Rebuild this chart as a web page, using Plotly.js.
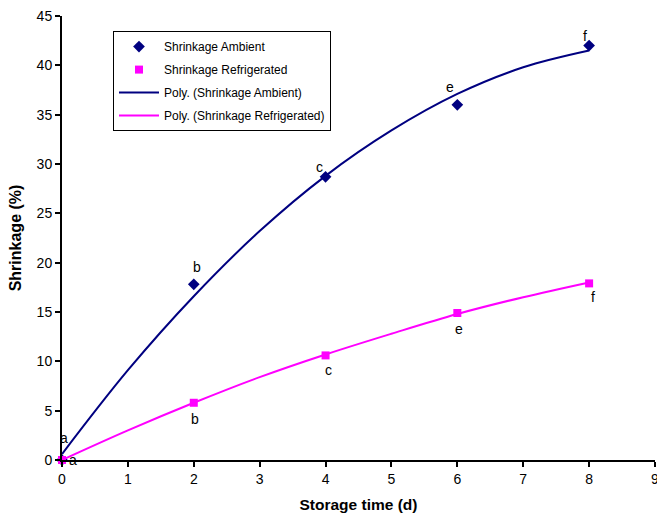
<!DOCTYPE html>
<html><head><meta charset="utf-8">
<script src="https://cdn.plot.ly/plotly-3.0.1.min.js"></script>
<style>html,body{margin:0;padding:0;background:#fff}#c{width:657px;height:516px}</style>
</head><body><div id="c"></div>
<script>
const days = [0, 2, 4, 6, 8];
const ambient = [0, 17.8, 28.7, 36.0, 42.0];
const refrigerated = [0, 5.8, 10.6, 14.9, 17.9];
const ambientLetters = ['a', 'b', 'c', 'e', 'f'];
const refrigLetters = ['a', 'b', 'c', 'e', 'f'];
const trendDays = [0, 1, 2, 3, 4, 5, 6, 7, 8];
const ambientTrend = [0.6, 9.1, 16.6, 23.2, 28.8, 33.4, 37.1, 39.8, 41.5];
const refrigTrend = [0.0, 3.0, 5.8, 8.4, 10.7, 12.8, 14.8, 16.5, 18.0];

// label offsets in pixels (style only)
const ambShiftX = [2, 3, -6, -7, -4];
const ambShiftY = [22, 17, 10, 18, 10];
const refShiftX = [11, 1, 3, 2, 4];
const refShiftY = [0, -16, -15, -16, -14];

const font = 'Liberation Sans, Arial, sans-serif';
const traces = [
  {x: days, y: ambient, mode: 'markers', name: 'Shrinkage Ambient', legendgroup: 'g1',
   marker: {symbol: 'diamond', color: '#000080', size: 9}, cliponaxis: false},
  {x: days, y: refrigerated, mode: 'markers', name: 'Shrinkage Refrigerated', legendgroup: 'g2',
   marker: {symbol: 'square', color: '#FF00FF', size: 8}, cliponaxis: false},
  {x: trendDays, y: ambientTrend, mode: 'lines', name: 'Poly. (Shrinkage Ambient)', legendgroup: 'g3',
   line: {color: '#000080', width: 2, shape: 'spline'}, cliponaxis: false},
  {x: trendDays, y: refrigTrend, mode: 'lines', name: 'Poly. (Shrinkage Refrigerated)', legendgroup: 'g4',
   line: {color: '#FF00FF', width: 2, shape: 'spline'}, cliponaxis: false}
];

const annotations = [];
days.forEach((d, i) => {
  annotations.push({x: d, y: ambient[i], xref: 'x', yref: 'y', text: ambientLetters[i],
    showarrow: false, xshift: ambShiftX[i], yshift: ambShiftY[i],
    font: {family: font, size: 14, color: '#000'}});
  annotations.push({x: d, y: refrigerated[i], xref: 'x', yref: 'y', text: refrigLetters[i],
    showarrow: false, xshift: refShiftX[i], yshift: refShiftY[i],
    font: {family: font, size: 14, color: '#000'}});
});

const layout = {
  width: 657, height: 516,
  margin: {l: 62, r: 2, t: 16, b: 56},
  paper_bgcolor: '#fff', plot_bgcolor: '#fff',
  font: {family: font, size: 14, color: '#000'},
  showlegend: true,
  annotations: annotations,
  legend: {x: 0.086, y: 0.966, xanchor: 'left', yanchor: 'top',
    bordercolor: '#000', borderwidth: 1, bgcolor: '#fff', traceorder: 'grouped',
    font: {family: font, size: 12, color: '#000'}, tracegroupgap: 4, itemwidth: 40},
  xaxis: {range: [0, 9], dtick: 1, showgrid: false, zeroline: false,
    showline: true, linecolor: '#000', linewidth: 2, ticklabeloverflow: 'allow',
    ticks: 'outside', ticklen: 5, tickwidth: 2, tickcolor: '#000',
    tickfont: {family: font, size: 14}, fixedrange: true,
    title: {text: '<b>Storage time (d)</b>', font: {family: font, size: 15.5}, standoff: 13}},
  yaxis: {range: [0, 45], dtick: 5, showgrid: false, zeroline: false,
    showline: true, linecolor: '#000', linewidth: 2,
    ticks: 'outside', ticklen: 5, tickwidth: 2, tickcolor: '#000',
    tickfont: {family: font, size: 14}, fixedrange: true,
    title: {text: '<b>Shrinkage (%)</b>', font: {family: font, size: 16}, standoff: 11}}
};
Plotly.newPlot('c', traces, layout, {displayModeBar: false, staticPlot: true});
</script></body></html>
